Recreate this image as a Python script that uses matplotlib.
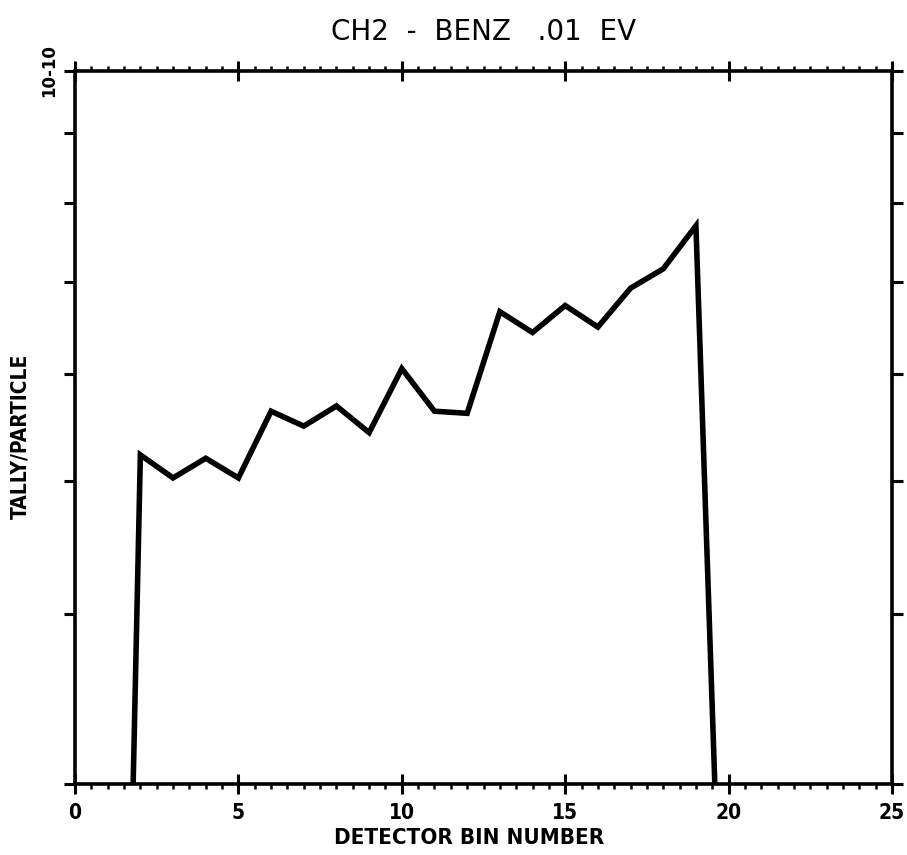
import matplotlib
matplotlib.use("Agg")
import matplotlib.pyplot as plt
from matplotlib.ticker import FixedLocator, MultipleLocator, FixedFormatter

# Tally per particle for each detector bin
bins = [1, 2, 3, 4, 5, 6, 7, 8, 9, 10, 11, 12, 13, 14, 15, 16, 17, 18, 19, 20]
tally = [4.2e-12, 5.23e-11, 5.03e-11, 5.20e-11, 5.03e-11, 5.63e-11, 5.49e-11,
         5.68e-11, 5.43e-11, 6.05e-11, 5.63e-11, 5.61e-11, 6.66e-11, 6.43e-11,
         6.73e-11, 6.49e-11, 6.93e-11, 7.16e-11, 7.70e-11, 1.51e-11]

y_ticks = [3e-11, 4e-11, 5e-11, 6e-11, 7e-11, 8e-11, 9e-11, 1e-10]
y_tick_labels = ["", "", "", "", "", "", "", "10-10"]
x_ticks = [0, 5, 10, 15, 20, 25]

title = "CH2  -  BENZ   .01  EV"
xlabel = "DETECTOR BIN NUMBER"
ylabel = "TALLY/PARTICLE"

plt.rcParams["font.family"] = ["DejaVu Sans"]

fig = plt.figure(figsize=(9.07, 8.55), dpi=100)
ax = fig.add_axes([75 / 907, 1 - 784 / 855, 817 / 907, 713 / 855])

ax.plot(bins, tally, color="black", linewidth=4.0, solid_joinstyle="miter",
        clip_on=True)

ax.set_yscale("log")
ax.set_xlim(0, 25)
ax.set_ylim(3e-11, 1e-10)

ax.xaxis.set_major_locator(FixedLocator(x_ticks))
ax.xaxis.set_minor_locator(MultipleLocator(0.5))
ax.yaxis.set_major_locator(FixedLocator(y_ticks))
ax.yaxis.set_major_formatter(FixedFormatter(y_tick_labels))
ax.yaxis.set_minor_locator(FixedLocator([]))

for s in ax.spines.values():
    s.set_linewidth(2.6)

ax.tick_params(axis="x", which="major", direction="inout", length=14, width=2.2,
               top=True, bottom=True, pad=7, labelsize=15)
ax.tick_params(axis="x", which="minor", direction="out", length=3.5, width=1.8,
               top=True, bottom=True)
ax.tick_params(axis="y", which="major", direction="out", length=8, width=2.2,
               left=True, right=True, pad=4, labelsize=12)
for lbl in ax.get_xticklabels():
    lbl.set_fontweight("bold")
    lbl.set_fontstretch("condensed")
for lbl in ax.get_yticklabels():
    lbl.set_fontweight("bold")
    lbl.set_rotation(90)
    lbl.set_verticalalignment("center")

ax.set_title(title, fontsize=20, pad=22, fontweight="medium")
ax.set_xlabel(xlabel, fontsize=16, fontweight="bold", fontstretch="condensed")
ax.xaxis.set_label_coords(0.483, -0.0757)
ax.xaxis.label.set_verticalalignment("center")
ax.set_ylabel(ylabel, fontsize=15, fontweight="bold", fontstretch="condensed")
ax.yaxis.set_label_coords(-0.067, 0.487)
ax.yaxis.label.set_verticalalignment("center")

fig.savefig("out.png", dpi=100, facecolor="white")
